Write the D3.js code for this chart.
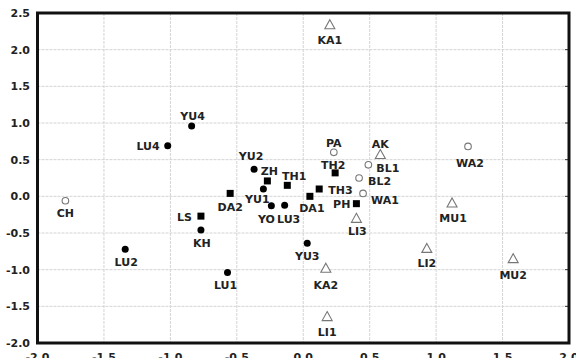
<!DOCTYPE html>
<html>
<head>
<meta charset="utf-8">
<script src="https://cdn.jsdelivr.net/npm/d3@7"></script>
<style>
  html, body { margin: 0; padding: 0; background: #fff; }
  svg { display: block; }
  text { font-family: "DejaVu Sans", sans-serif; font-weight: bold; fill: #222; }
</style>
</head>
<body>
<svg id="chart" width="576" height="358"></svg>
<script>
// ---- data ----
const names  = ["KA1","YU4","LU4","YU2","ZH","TH1","YU1","DA2","LS","YO","LU3","KH","LU1","YU3","KA2","LI1","DA1","TH3","TH2","PA","PH","LI3","AK","BL1","BL2","WA1","WA2","MU1","LI2","MU2","CH","LU2"];
const xValues = [0.20,-0.84,-1.02,-0.37,-0.27,-0.12,-0.30,-0.55,-0.77,-0.24,-0.14,-0.77,-0.57,0.03,0.17,0.18,0.05,0.12,0.24,0.23,0.40,0.40,0.58,0.49,0.42,0.45,1.24,1.12,0.93,1.58,-1.79,-1.34];
const yValues = [2.34,0.96,0.69,0.37,0.21,0.15,0.10,0.04,-0.27,-0.13,-0.12,-0.46,-1.04,-0.64,-0.98,-1.64,0.00,0.10,0.32,0.60,-0.10,-0.30,0.57,0.43,0.25,0.04,0.68,-0.09,-0.71,-0.85,-0.06,-0.72];
const groups = ["tri","dot","dot","dot","sq","sq","dot","sq","sq","dot","dot","dot","dot","dot","tri","tri","sq","sq","sq","ring","sq","tri","tri","ring","ring","ring","ring","tri","tri","tri","ring","dot"];
const xTicks = [-2.0,-1.5,-1.0,-0.5,0.0,0.5,1.0,1.5,2.0];
const yTicks = [-2.0,-1.5,-1.0,-0.5,0.0,0.5,1.0,1.5,2.0,2.5];

// ---- label layout (anchor, dx, dy in px from marker) ----
const labelLayout = {
  KA1:["middle",0,19], YU4:["middle",1,-6], LU4:["end",-8,4], YU2:["middle",-3,-9],
  ZH:["middle",2,-6], TH1:["middle",7,-5], YU1:["middle",-6,14], DA2:["middle",0,18],
  LS:["end",-9,5], YO:["middle",-5,17], LU3:["middle",4,18], KH:["middle",1,17],
  LU1:["middle",-2,16], YU3:["middle",0,17], KA2:["middle",0,21], LI1:["middle",0,19],
  DA1:["middle",2,16], TH3:["start",9,5], TH2:["middle",-2,-4], PA:["middle",0,-5],
  PH:["end",-6,4], LI3:["middle",1,17], AK:["middle",0,-7], BL1:["start",8,7],
  BL2:["start",9,7], WA1:["start",8,11], WA2:["middle",2,21], MU1:["middle",1,19],
  LI2:["middle",0,19], MU2:["middle",0,20], CH:["middle",0,16], LU2:["middle",1,17]
};

// ---- layout ----
const svg = d3.select("#chart");
const x = d3.scaleLinear().domain([-2, 2]).range([37.5, 569]);
const y = d3.scaleLinear().domain([-2, 2.5]).range([343, 13]);

// grid
const grid = svg.append("g");
grid.selectAll("line.gx").data(xTicks.slice(1, -1)).join("line")
  .attr("x1", d => x(d)).attr("x2", d => x(d)).attr("y1", y(2.5)).attr("y2", y(-2))
  .attr("stroke", "#d4d4d4").attr("stroke-width", 1).attr("stroke-dasharray", "3,1");
grid.selectAll("line.gy").data(yTicks.slice(1, -1)).join("line")
  .attr("y1", d => y(d)).attr("y2", d => y(d)).attr("x1", x(-2)).attr("x2", x(2))
  .attr("stroke", "#d4d4d4").attr("stroke-width", 1).attr("stroke-dasharray", "3,1");

// right inner ticks
svg.append("g").selectAll("line").data(yTicks.slice(1, -1)).join("line")
  .attr("x1", x(2) - 4).attr("x2", x(2)).attr("y1", d => y(d)).attr("y2", d => y(d))
  .attr("stroke", "#333").attr("stroke-width", 1);

// axes labels
svg.append("g").selectAll("text").data(yTicks).join("text")
  .attr("x", 30).attr("y", d => y(d) + 4)
  .attr("text-anchor", "end").attr("font-size", 11)
  .text(d => d.toFixed(1));
svg.append("g").selectAll("text").data(xTicks).join("text")
  .attr("x", d => x(d)).attr("y", 361)
  .attr("text-anchor", "middle").attr("font-size", 11)
  .text(d => d.toFixed(1));

// points
const pts = names.map((n, i) => ({ name: n, x: xValues[i], y: yValues[i], g: groups[i] }));
const marks = svg.append("g");
pts.forEach(p => {
  const cx = x(p.x), cy = y(p.y);
  if (p.g === "dot") {
    marks.append("circle").attr("cx", cx).attr("cy", cy).attr("r", 3.5).attr("fill", "#000");
  } else if (p.g === "sq") {
    marks.append("rect").attr("x", cx - 3.5).attr("y", cy - 3.5).attr("width", 7).attr("height", 7).attr("fill", "#000");
  } else if (p.g === "ring") {
    marks.append("circle").attr("cx", cx).attr("cy", cy).attr("r", 3.3)
      .attr("fill", "#fff").attr("stroke", "#777").attr("stroke-width", 1.1);
  } else {
    marks.append("path")
      .attr("d", `M${cx},${cy - 5} L${cx + 5},${cy + 4} L${cx - 5},${cy + 4} Z`)
      .attr("fill", "#fff").attr("stroke", "#777").attr("stroke-width", 1.1);
  }
});

// labels
svg.append("g").selectAll("text").data(pts).join("text")
  .attr("x", d => x(d.x) + labelLayout[d.name][1])
  .attr("y", d => y(d.y) + labelLayout[d.name][2])
  .attr("text-anchor", d => labelLayout[d.name][0])
  .attr("font-size", 11)
  .text(d => d.name);

// frame
svg.append("rect")
  .attr("x", x(-2)).attr("y", y(2.5))
  .attr("width", x(2) - x(-2)).attr("height", y(-2) - y(2.5))
  .attr("fill", "none").attr("stroke", "#111").attr("stroke-width", 3);
</script>
</body>
</html>
